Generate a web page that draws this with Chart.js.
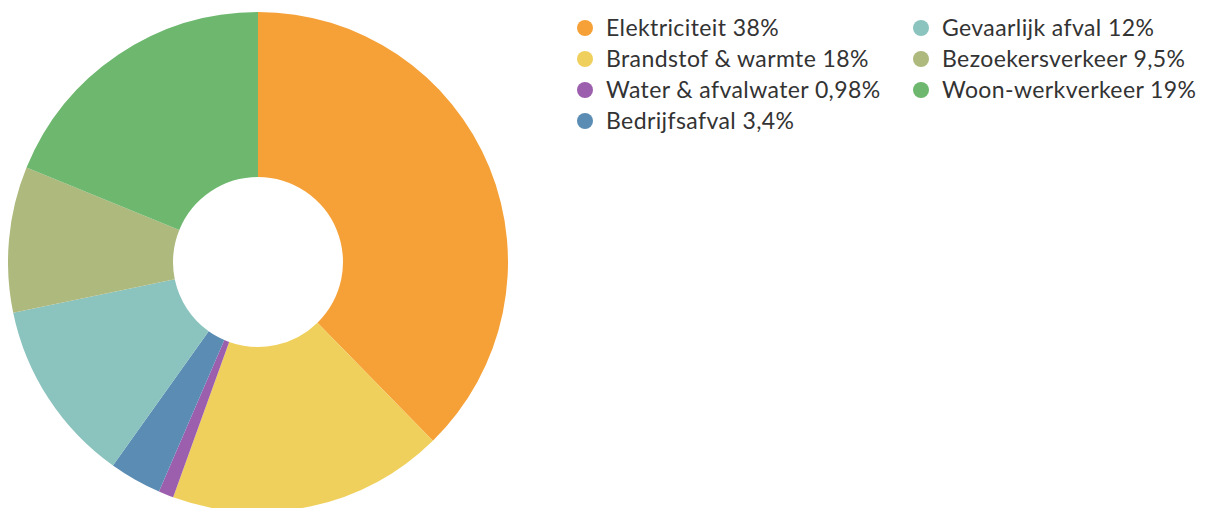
<!DOCTYPE html>
<html>
<head>
<meta charset="utf-8">
<script src="https://cdn.jsdelivr.net/npm/chart.js@4"></script>
<style>
  html, body { margin: 0; padding: 0; background: #fff; overflow: hidden; width: 1209px; height: 508px; }
  #wrap { position: absolute; left: 8px; top: 12px; width: 500px; height: 500px; }
  #legend { position: absolute; left: 577px; top: 12px; font-family: Lato, "Open Sans", sans-serif; font-size: 23px; letter-spacing: 0.4px; color: #333; }
  .col { position: absolute; top: 0; white-space: nowrap; }
  .item { height: 31.1px; line-height: 31.1px; }
  .dot { display: inline-block; width: 16px; height: 16px; border-radius: 50%; margin-right: 13px; }
</style>
</head>
<body>
<div id="wrap"><canvas id="pieChart"></canvas></div>
<div id="legend"></div>
<script>
const categories = ['Elektriciteit', 'Brandstof & warmte', 'Water & afvalwater', 'Bedrijfsafval',
  'Gevaarlijk afval', 'Bezoekersverkeer', 'Woon-werkverkeer'];
const shares = [38, 18, 0.98, 3.4, 12, 9.5, 19];
const colors = ['#F5A138', '#F0D05C', '#9B5FAE', '#5B8DB4', '#8BC3BE', '#ADB97D', '#6DB76E'];

const labels = categories.map((c, i) => c + ' ' + shares[i].toLocaleString('nl-NL') + '%');

const chart = new Chart(document.getElementById('pieChart'), {
  type: 'doughnut',
  data: {
    labels: labels,
    datasets: [{
      data: shares,
      backgroundColor: colors,
      borderWidth: 0
    }]
  },
  options: {
    responsive: true,
    maintainAspectRatio: false,
    animation: false,
    cutout: '34%',
    plugins: {
      legend: { display: false },
      tooltip: { enabled: false }
    }
  }
});

// html legend in two columns, built from the chart's own labels
const legend = document.getElementById('legend');
const cols = [document.createElement('div'), document.createElement('div')];
cols[0].className = 'col'; cols[0].style.left = '0px';
cols[1].className = 'col'; cols[1].style.left = '336px';
chart.data.labels.forEach((text, i) => {
  const item = document.createElement('div');
  item.className = 'item';
  item.innerHTML = '<span class="dot" style="background:' + colors[i] + '"></span>' + text;
  cols[i < 4 ? 0 : 1].appendChild(item);
});
cols.forEach(c => legend.appendChild(c));
</script>
</body>
</html>
